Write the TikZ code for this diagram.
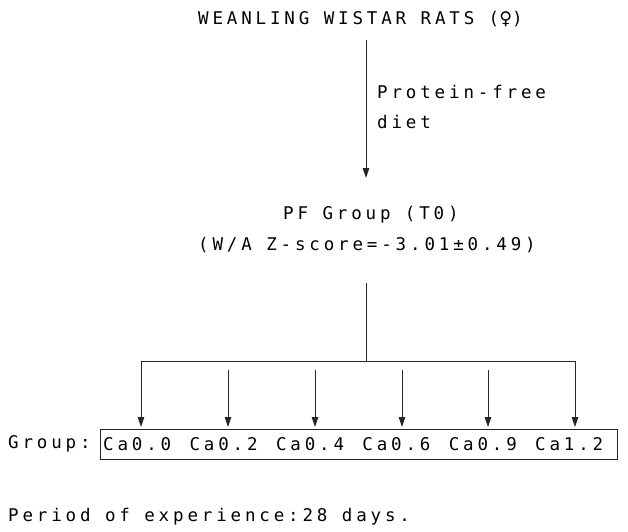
\documentclass[tikz,border=0pt]{standalone}
\usepackage{fontspec}
\usetikzlibrary{arrows.meta,fit}
\newfontfamily\plotfont[LetterSpace=22]{DejaVu Sans Mono}
\newfontfamily\symfont{DejaVu Sans}
\begin{document}
\begin{tikzpicture}[x=1pt,y=-1pt,
  txt/.style={inner sep=0pt,anchor=west,font=\plotfont\fontsize{17.5pt}{30pt}\selectfont,text=black},
  ln/.style={line width=1pt,draw=black!85},
  arr/.style={ln,-{Triangle[length=10pt,width=6.5pt]}},
  boxst/.style={draw=black!85,line width=1pt,inner sep=0pt}]
\useasboundingbox[fill=white] (0,0) rectangle (628,531);
% title
\node[txt] (title) at (198,19) {WEANLING WISTAR RATS ({\symfont ♀})};
\coordinate (a1) at (366,40);
\coordinate (a2) at (366,178);
\draw[arr] (a1) -- (a2);
\node[txt,align=left] (lab) at (377,107) {Protein-free\\diet};
% PF group
\node[txt] (pf) at (283,215) {PF Group (T0)};
\node[txt] (wa) at (198,245) {(W/A Z-score=-3.01±0.49)};
\coordinate (s1) at (366,283);
\coordinate (s2) at (366,361);
\draw[ln] (s1) -- (s2);
% groups
\node[txt] (g) at (8,444) {Group:};
\foreach \i/\x/\t in {1/103/Ca0.0,2/189.4/Ca0.2,3/275.8/Ca0.4,4/362.2/Ca0.6,5/448.6/Ca0.9,6/535/Ca1.2}{
  \node[txt] (c\i) at (\x,444) {\t};
}
\node[boxst,fit={(100,429) (617,459)}] (box) {};
% bar
\coordinate (b1) at (141,361);
\coordinate (b6) at (575,361);
\draw[ln] (b1) -- (b6);
\draw[arr] (b1) -- (141,427);
\draw[arr] (b6) -- (575,427);
\foreach \x in {228,315,402,488}{
  \draw[arr] (\x,370) -- (\x,427);
}
\node[txt] (per) at (8,517) {Period of experience:28 days.};
\end{tikzpicture}
\end{document}
